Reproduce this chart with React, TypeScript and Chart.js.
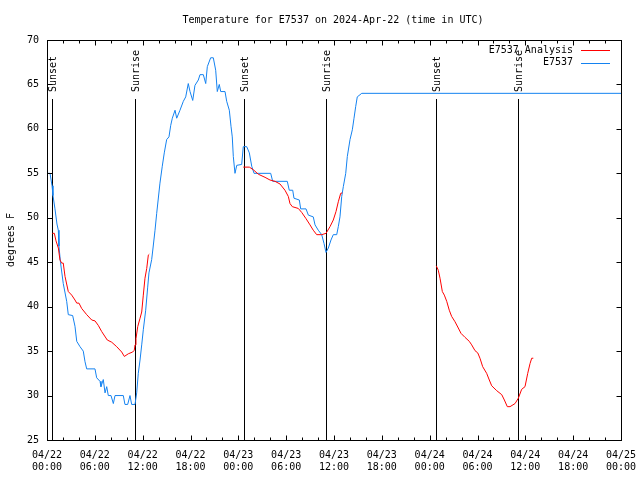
import React, { useEffect, useRef } from "react";
import { Chart, registerables } from "chart.js";

Chart.register(...registerables);

const TITLE = "Temperature for E7537 on 2024-Apr-22 (time in UTC)";
const Y_LABEL = "degrees F";
const FONT = "'DejaVu Sans Mono', 'Liberation Mono', monospace";

const X_TICK_DATES = ["04/22", "04/22", "04/22", "04/22", "04/23", "04/23", "04/23", "04/23", "04/24", "04/24", "04/24", "04/24", "04/25"];
const X_TICK_TIMES = ["00:00", "06:00", "12:00", "18:00", "00:00", "06:00", "12:00", "18:00", "00:00", "06:00", "12:00", "18:00", "00:00"];

const SERIES_OBS = "E7537";
const SERIES_ANA = "E7537 Analysis";

// hours since 04/22 00:00 UTC
const obsHours = [
  0.0, 0.38, 0.63, 0.75, 1.0, 1.25, 1.42, 1.5, 1.69, 2.04, 2.47, 2.67, 3.22, 3.51, 3.73, 4.14, 4.55, 4.77, 4.98,
  6.02, 6.23, 6.65, 6.77, 7.06, 7.28, 7.49, 7.69, 8.03, 8.32, 8.53, 9.57, 9.78, 10.12, 10.41, 10.62, 11.04,
  11.25, 11.45, 11.67, 11.88, 12.08, 12.38, 12.63, 12.79, 13.13, 13.3, 13.55, 13.76, 14.17, 14.46, 14.71,
  15.01, 15.3, 15.52, 15.72, 16.06, 16.27, 16.68, 17.1, 17.4, 17.72, 17.94, 18.28, 18.56, 18.98, 19.19,
  19.61, 19.91, 20.11, 20.53, 20.86, 21.16, 21.36, 21.61, 21.79, 22.33, 22.54, 22.87, 23.08, 23.24, 23.37,
  23.58, 23.8, 24.42, 24.62, 25.05, 25.38, 25.68, 25.97, 28.06, 28.31, 30.14, 30.39, 30.82, 30.98, 31.65,
  31.82, 32.49, 32.78, 33.4, 33.62, 34.03, 34.46, 34.75, 35.0, 35.29, 35.62, 35.91, 36.34, 36.54, 36.75,
  36.97, 37.17, 37.47, 37.67, 38.01, 38.3, 38.51, 38.72, 38.92, 39.48, 72.0,
];
const obsTemps = [
  55.0, 55.0, 53.6, 52.5, 51.0, 49.3, 48.6, 46.8, 45.0, 42.6, 40.6, 39.1, 39.0, 37.8, 36.1, 35.5, 35.0, 33.8, 33.0,
  33.0, 32.0, 31.6, 31.0, 31.8, 30.3, 31.0, 30.0, 30.0, 29.1, 30.0, 30.0, 29.0, 29.0, 30.0, 29.0, 29.0,
  30.3, 32.5, 34.0, 35.7, 37.4, 39.6, 42.2, 43.8, 45.3, 46.6, 48.6, 50.5, 53.9, 55.8, 57.3,
  58.8, 59.1, 60.4, 61.2, 62.1, 61.2, 62.1, 63.1, 63.6, 65.1, 64.2, 63.2, 64.9, 65.5, 66.1,
  66.1, 65.1, 67.0, 68.0, 68.0, 66.6, 64.2, 65.0, 64.2, 64.2, 63.1, 62.1, 60.3, 59.1, 56.9,
  55.0, 55.9, 56.0, 58.0, 58.0, 57.3, 55.8, 55.0, 55.0, 54.1, 54.1, 53.1, 53.1, 52.2, 52.0,
  51.0, 51.0, 50.3, 50.1, 49.2, 48.6, 48.1, 47.1, 46.1, 46.6, 47.5, 48.1, 48.1, 49.0, 50.1,
  52.4, 53.5, 55.0, 56.9, 58.8, 59.9, 61.2, 62.5, 63.6, 64.0, 64.0,
];

// null temperatures separate the analysis segments
const anaHours = [
  0.66, 0.92, 1.13, 1.42, 1.63, 1.84, 2.04, 2.26, 2.67, 3.1, 3.51, 3.73, 4.01, 4.35, 4.98, 5.61, 6.02, 6.43,
  6.86, 7.56, 8.12, 8.74, 9.37, 9.7, 10.2, 10.75, 10.95, 11.04, 11.16, 11.38, 11.67, 11.88, 12.08, 12.29,
  12.51, 12.71, 12.83,
  18.0,
  24.62, 25.38, 25.88, 26.51, 27.35, 27.97, 28.6, 29.23, 29.85, 30.27, 30.48, 30.77, 31.52, 31.95, 32.49,
  32.99, 33.4, 33.83, 34.46, 35.0, 35.5, 35.91, 36.25, 36.54, 36.84, 37.04,
  42.0,
  48.83, 49.08, 49.3, 49.59, 49.84, 50.14, 50.46, 50.76, 51.18, 51.59, 51.93, 52.43, 52.97, 53.27, 53.69,
  54.03, 54.31, 54.65, 55.15, 55.48, 55.78, 56.41, 57.04, 57.37, 57.74, 58.08, 58.71, 59.12, 59.54, 59.96,
  60.3, 60.59, 60.8, 61.0,
];
const anaTemps = [
  48.25, 48.25, 47.4, 46.6, 45.25, 44.9, 44.9, 43.4, 41.7, 41.3, 40.75, 40.4, 40.4, 39.8, 39.1, 38.5, 38.4, 37.9,
  37.2, 36.25, 36.0, 35.5, 34.9, 34.4, 34.7, 34.9, 35.1, 35.7, 36.4, 37.75, 38.7, 39.4, 41.3, 43.2,
  44.3, 45.8, 45.9,
  null,
  55.7, 55.7, 55.4, 54.9, 54.55, 54.25, 54.1, 53.8, 53.1, 52.4, 51.6, 51.25, 51.05, 50.6, 49.9,
  49.2, 48.6, 48.1, 48.1, 48.25, 49.0, 49.75, 50.7, 51.8, 52.75, 52.8,
  null,
  44.6, 44.1, 43.2, 41.7, 41.3, 40.6, 39.6, 38.9, 38.3, 37.6, 37.0, 36.55, 36.1, 35.7, 35.05,
  34.8, 34.2, 33.25, 32.5, 31.75, 31.1, 30.55, 30.1, 29.5, 28.75, 28.75, 29.1, 29.7, 30.7, 31.0,
  32.5, 33.6, 34.2, 34.2,
];

const eventHours = [0.66, 11.08, 24.75, 35.04, 48.83, 59.12];
const eventLabels = ["Sunset", "Sunrise", "Sunset", "Sunrise", "Sunset", "Sunrise"];

const RED = "rgb(255,0,0)";
const BLUE = "rgb(20,130,240)";

const decorPlugin = {
  id: "decor",
  beforeDatasetsDraw(chart: any) {
    const { ctx, chartArea: a, scales } = chart;
    const xs = scales.x;
    ctx.save();
    ctx.strokeStyle = "#000";
    ctx.fillStyle = "#000";
    ctx.lineWidth = 1;
    ctx.font = `10px ${FONT}`;
    eventHours.forEach((h, i) => {
      const px = Math.round(xs.getPixelForValue(h)) + 0.5;
      ctx.beginPath();
      ctx.moveTo(px, a.top + 59);
      ctx.lineTo(px, a.bottom);
      ctx.stroke();
      ctx.save();
      ctx.translate(px + 1, a.top + 52);
      ctx.rotate(-Math.PI / 2);
      ctx.textAlign = "left";
      ctx.textBaseline = "middle";
      ctx.fillText(eventLabels[i], 0, 0);
      ctx.restore();
    });
    ctx.restore();
  },
  afterDraw(chart: any) {
    const { ctx, chartArea: a, scales } = chart;
    const xs = scales.x;
    const ys = scales.y;
    ctx.save();
    ctx.strokeStyle = "#000";
    ctx.fillStyle = "#000";
    ctx.lineWidth = 1;
    const L = Math.round(a.left) + 0.5;
    const R = Math.round(a.right) + 0.5;
    const T = Math.round(a.top) + 0.5;
    const B = Math.round(a.bottom) + 0.5;
    ctx.strokeRect(L, T, R - L, B - T);
    // x ticks (major every 6h, minor every 2h), inward, top and bottom
    ctx.beginPath();
    for (let h = 0; h <= 72; h += 2) {
      const px = Math.round(xs.getPixelForValue(h)) + 0.5;
      const len = h % 6 === 0 ? 5 : 3;
      ctx.moveTo(px, B);
      ctx.lineTo(px, B - len);
      ctx.moveTo(px, T);
      ctx.lineTo(px, T + len);
    }
    for (let v = 25; v <= 70; v += 5) {
      const py = Math.round(ys.getPixelForValue(v)) + 0.5;
      ctx.moveTo(L, py);
      ctx.lineTo(L + 5, py);
      ctx.moveTo(R, py);
      ctx.lineTo(R - 5, py);
    }
    ctx.stroke();

    // title
    ctx.font = `10px ${FONT}`;
    ctx.textAlign = "center";
    ctx.textBaseline = "middle";
    ctx.fillText(TITLE, (a.left + a.right) / 2 - 1, 20);

    // y label
    ctx.save();
    ctx.translate(11, (a.top + a.bottom) / 2);
    ctx.rotate(-Math.PI / 2);
    ctx.fillText(Y_LABEL, 0, 0);
    ctx.restore();

    // legend
    const items = chart.data.datasets;
    items.forEach((ds: any, i: number) => {
      const yy = a.top + 10 + i * 12.5;
      ctx.textAlign = "right";
      ctx.fillStyle = "#000";
      ctx.fillText(ds.label, a.right - 48, yy);
      ctx.strokeStyle = ds.borderColor;
      ctx.beginPath();
      ctx.moveTo(a.right - 40, Math.round(yy) + 0.5);
      ctx.lineTo(a.right - 11, Math.round(yy) + 0.5);
      ctx.stroke();
    });
    ctx.restore();
  },
};

export default function App() {
  const ref = useRef<HTMLCanvasElement | null>(null);
  useEffect(() => {
    if (!ref.current) return;
    const chart = new Chart(ref.current, {
      type: "line",
      data: {
        datasets: [
          {
            label: SERIES_ANA,
            data: anaHours.map((h, i) => ({ x: h, y: anaTemps[i] })) as any,
            borderColor: RED,
            backgroundColor: RED,
            borderWidth: 1,
            pointRadius: 0,
            tension: 0,
            spanGaps: false,
          },
          {
            label: SERIES_OBS,
            data: obsHours.map((h, i) => ({ x: h, y: obsTemps[i] })) as any,
            borderColor: BLUE,
            backgroundColor: BLUE,
            borderWidth: 1,
            pointRadius: 0,
            tension: 0,
          },
        ],
      },
      options: {
        animation: false,
        responsive: false,
        devicePixelRatio: 1,
        layout: { padding: { left: 0, right: 19, top: 40, bottom: 0 } },
        plugins: { legend: { display: false }, title: { display: false }, tooltip: { enabled: false } },
        scales: {
          x: {
            type: "linear",
            min: 0,
            max: 72,
            grid: { display: false, drawTicks: false },
            border: { display: false },
            afterFit: (s: any) => {
              s.height = 40;
              s.paddingLeft = 0;
              s.paddingRight = 0;
            },
            ticks: {
              stepSize: 6,
              autoSkip: false,
              maxRotation: 0,
              padding: 9,
              color: "#000",
              font: { family: FONT, size: 10, lineHeight: 1.25 },
              callback: (v: any) => {
                const i = Math.round(Number(v) / 6);
                return [X_TICK_DATES[i], X_TICK_TIMES[i]];
              },
            },
          },
          y: {
            min: 25,
            max: 70,
            grid: { display: false, drawTicks: false },
            border: { display: false },
            afterFit: (s: any) => {
              s.width = 47;
              s.paddingTop = 0;
              s.paddingBottom = 0;
            },
            ticks: {
              stepSize: 5,
              padding: 8,
              color: "#000",
              font: { family: FONT, size: 10 },
            },
          },
        },
      },
      plugins: [decorPlugin],
    });
    return () => chart.destroy();
  }, []);
  return (
    <div style={{ position: "absolute", left: 0, top: 0, width: 640, height: 480, background: "#fff" }}>
      <canvas ref={ref} width={640} height={480} />
    </div>
  );
}
